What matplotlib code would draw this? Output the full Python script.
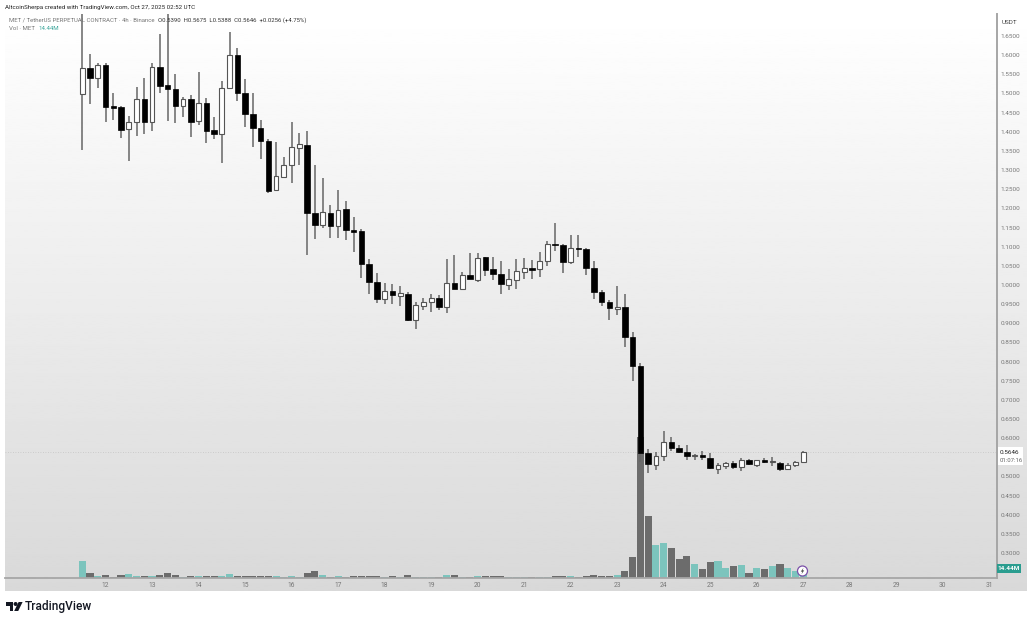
#!/usr/bin/env python3
"""MET/USDT 4h candles with volume, TradingView snapshot style."""
import matplotlib

matplotlib.use("Agg")
import matplotlib.pyplot as plt
import numpy as np
from matplotlib.patches import Circle, Polygon, Rectangle

plt.rcParams["font.family"] = ["Roboto", "DejaVu Sans"]

# 4h candles, prices in USDT
opens = [
    1.499, 1.566, 1.540, 1.574, 1.465, 1.465, 1.406, 1.426, 1.486, 1.426,
    1.568, 1.522, 1.512, 1.468, 1.485, 1.427, 1.474, 1.404, 1.393, 1.513,
    1.600, 1.502, 1.446, 1.410, 1.377, 1.247, 1.283, 1.312, 1.358, 1.365,
    1.187, 1.157, 1.187, 1.153, 1.198, 1.143, 1.140, 1.054, 1.008, 0.963,
    0.985, 0.971, 0.977, 0.908, 0.946, 0.955, 0.965, 0.942, 1.004, 0.989,
    1.026, 1.014, 1.072, 1.041, 1.029, 1.001, 1.013, 1.035, 1.043, 1.041,
    1.062, 1.108, 1.104, 1.061, 1.096, 1.094, 1.043, 0.981, 0.955, 0.938,
    0.942, 0.864, 0.788, 0.561, 0.531, 0.553, 0.589, 0.575, 0.565, 0.554,
    0.556, 0.549, 0.519, 0.527, 0.534, 0.524, 0.543, 0.530, 0.543, 0.538,
    0.536, 0.519, 0.530, 0.5390,
]
highs = [
    1.707, 1.603, 1.579, 1.579, 1.502, 1.467, 1.441, 1.516, 1.541, 1.579,
    1.654, 1.707, 1.551, 1.492, 1.496, 1.557, 1.487, 1.438, 1.532, 1.660,
    1.620, 1.537, 1.500, 1.432, 1.380, 1.374, 1.335, 1.425, 1.396, 1.402,
    1.313, 1.280, 1.209, 1.248, 1.219, 1.177, 1.145, 1.067, 1.030, 1.004,
    1.002, 0.997, 0.982, 0.956, 0.965, 0.976, 0.974, 1.067, 1.078, 1.035,
    1.083, 1.083, 1.074, 1.074, 1.063, 1.041, 1.069, 1.070, 1.065, 1.087,
    1.116, 1.163, 1.106, 1.130, 1.130, 1.096, 1.063, 0.987, 0.961, 0.997,
    0.976, 0.876, 0.797, 0.571, 0.563, 0.618, 0.602, 0.582, 0.582, 0.559,
    0.567, 0.560, 0.534, 0.538, 0.541, 0.547, 0.545, 0.543, 0.547, 0.550,
    0.539, 0.536, 0.541, 0.5675,
]
lows = [
    1.352, 1.472, 1.513, 1.425, 1.431, 1.383, 1.324, 1.390, 1.393, 1.402,
    1.500, 1.429, 1.422, 1.438, 1.386, 1.418, 1.370, 1.381, 1.319, 1.513,
    1.481, 1.413, 1.359, 1.330, 1.241, 1.247, 1.283, 1.265, 1.313, 1.078,
    1.120, 1.149, 1.122, 1.122, 1.117, 1.085, 1.017, 0.976, 0.952, 0.950,
    0.950, 0.945, 0.906, 0.885, 0.935, 0.930, 0.935, 0.926, 0.989, 0.989,
    1.015, 1.008, 1.023, 1.013, 0.976, 0.987, 0.989, 1.016, 1.015, 1.022,
    1.049, 1.089, 1.032, 1.055, 1.072, 1.027, 0.963, 0.945, 0.908, 0.922,
    0.837, 0.749, 0.538, 0.508, 0.517, 0.541, 0.566, 0.560, 0.543, 0.543,
    0.543, 0.519, 0.506, 0.519, 0.519, 0.515, 0.530, 0.525, 0.534, 0.528,
    0.515, 0.516, 0.525, 0.5388,
]
closes = [
    1.566, 1.540, 1.574, 1.464, 1.463, 1.405, 1.426, 1.486, 1.425, 1.569,
    1.519, 1.512, 1.468, 1.485, 1.425, 1.474, 1.403, 1.393, 1.515, 1.600,
    1.502, 1.446, 1.409, 1.375, 1.246, 1.285, 1.312, 1.359, 1.367, 1.187,
    1.157, 1.190, 1.154, 1.197, 1.143, 1.138, 1.055, 1.008, 0.963, 0.985,
    0.973, 0.979, 0.908, 0.948, 0.956, 0.965, 0.942, 1.004, 0.989, 1.026,
    1.015, 1.071, 1.038, 1.029, 1.002, 1.015, 1.036, 1.043, 1.040, 1.063,
    1.108, 1.104, 1.061, 1.096, 1.093, 1.044, 0.982, 0.955, 0.941, 0.942,
    0.865, 0.788, 0.560, 0.532, 0.553, 0.589, 0.575, 0.565, 0.553, 0.556,
    0.550, 0.521, 0.529, 0.534, 0.525, 0.543, 0.532, 0.543, 0.537, 0.540,
    0.519, 0.531, 0.538, 0.5646,
]
# volume in millions
volumes = [
    31.3, 10, 4.4, 5.6, 1.9, 5, 6.9, 4.4, 3.1, 3.1,
    5, 8.8, 5.6, 1.9, 3.1, 3.1, 3.1, 3.1, 3.1, 6.9,
    3.8, 3.1, 3.8, 3.1, 3.8, 3.1, 1.9, 3.8, 1.9, 8.8,
    12.5, 5, 2.5, 3.1, 2.5, 3.8, 4.4, 3.8, 3.8, 2.5,
    3.8, 2.5, 5, 1.9, 1.3, 1.3, 1.9, 5.6, 6.3, 1.9,
    2.5, 3.1, 3.8, 3.8, 3.8, 1.3, 1.3, 1.3, 2.5, 2.5,
    2.5, 3.8, 3.1, 3.1, 1.9, 3.8, 5, 3.8, 3.8, 5,
    13.1, 38.8, 264, 116, 62, 66, 56, 36, 41, 27,
    16, 30, 32, 18, 22, 24, 10, 19, 16, 22,
    27, 19, 14, 14.44,
]

# 0.5500 sits under the last-price tag, so it gets no label
price_ticks = [0.30, 0.35, 0.40, 0.45, 0.50, 0.60, 0.65, 0.70, 0.75, 0.80, 0.85, 0.90, 0.95, 1.00,
               1.05, 1.10, 1.15, 1.20, 1.25, 1.30, 1.35, 1.40, 1.45, 1.50, 1.55, 1.60, 1.65]
day_labels = [str(d) for d in range(12, 32)]
day_positions = [3 + 6 * k for k in range(len(day_labels))]

W, H = 1032, 622
UP_VOL = "#7cc4bd"
DOWN_VOL = "#6c6c6c"
TICK_GREY = "#777777"
HEADER_SIZE = 4.45


def px_axes(fig, left, top, right, bottom, **kw):
    return fig.add_axes(
        [left / W, 1 - bottom / H, (right - left) / W, (bottom - top) / H], **kw
    )


def draw_background(fig):
    ax = px_axes(fig, 5, 14, 1027, 591)
    shade = np.linspace(1.0, 0.85, 256).reshape(-1, 1)
    ax.imshow(shade, aspect="auto", cmap="gray", vmin=0, vmax=1, extent=(0, 1, 0, 1))
    ax.axis("off")


def draw_chart(fig):
    x = np.arange(len(closes))
    o, h, l, c = map(np.array, (opens, highs, lows, closes))
    up = c >= o

    vol_ax = px_axes(fig, 5, 14, 997, 578)
    vol_ax.patch.set_alpha(0)
    vol_ax.bar(x, volumes, width=0.92, color=[UP_VOL if u else DOWN_VOL for u in up], zorder=2)
    vol_ax.set_xlim(-9.97, 118.0)
    vol_ax.set_ylim(0, 1057.5)
    vol_ax.axis("off")

    ax = px_axes(fig, 5, 14, 997, 578)
    ax.patch.set_alpha(0)
    ax.axhline(closes[-1], color="#c4c4c4", lw=0.6, ls=(0, (1, 2)), zorder=1)
    ax.vlines(x, l, h, color="#666666", lw=1.1, zorder=3)
    bottoms = np.minimum(o, c)
    heights = np.maximum(np.abs(c - o), 0.003)
    ax.bar(x[~up], heights[~up], bottom=bottoms[~up], width=0.7, color="black",
           edgecolor="black", lw=0.5, zorder=4)
    ax.bar(x[up], heights[up], bottom=bottoms[up], width=0.62, color="white",
           edgecolor="#555555", lw=0.8, zorder=4)

    ax.set_xlim(-9.97, 118.0)
    ax.set_ylim(0.2348, 1.7075)
    ax.yaxis.tick_right()
    ax.set_yticks(price_ticks)
    ax.set_yticklabels([f"{p:.4f}" for p in price_ticks])
    ax.set_xticks(day_positions)
    ax.set_xticklabels(day_labels)
    ax.tick_params(axis="y", length=0, pad=2.5, labelsize=4.6, labelcolor=TICK_GREY)
    ax.tick_params(axis="x", length=0, pad=3, labelsize=4.8, labelcolor=TICK_GREY)
    for side in ("top", "left"):
        ax.spines[side].set_visible(False)
    ax.spines["right"].set_color("#a6a6a6")
    ax.spines["right"].set_linewidth(1.4)
    ax.spines["bottom"].set_color("#a6a6a6")
    ax.spines["bottom"].set_linewidth(1.3)


def draw_overlay(fig):
    ov = fig.add_axes([0, 0, 1, 1], zorder=10)
    ov.set_xlim(0, W)
    ov.set_ylim(H, 0)
    ov.axis("off")
    ov.patch.set_alpha(0)

    ov.text(5, 7, "AltcoinSherpa created with TradingView.com, Oct 27, 2025 02:52 UTC",
            fontsize=HEADER_SIZE, color="#222222", va="center")
    ov.text(9, 20, "MET / TetherUS PERPETUAL CONTRACT · 4h · Binance",
            fontsize=4.3, color="#777777", va="center")
    ov.text(158, 20, "O0.5390  H0.5675  L0.5388  C0.5646  +0.0256 (+4.75%)",
            fontsize=4.3, color="#333333", va="center")
    ov.text(9, 29, "Vol · MET", fontsize=HEADER_SIZE, color="#777777", va="center")
    ov.text(38, 29, "14.44M", fontsize=HEADER_SIZE, color="#3fa79c", va="center")

    ov.text(1002, 22, "USDT", fontsize=4.6, color="#444444", va="center")

    ov.add_patch(Rectangle((998, 447), 25, 18, fc="white", ec="none"))
    ov.text(1000, 452, "0.5646", fontsize=4.6, color="#222222", va="center")
    ov.text(1000, 460, "01:07:16", fontsize=4.3, color="#666666", va="center")

    ov.add_patch(Rectangle((997, 564), 24, 9, fc="#2a9d8f", ec="none"))
    ov.text(1009, 568.5, "14.44M", fontsize=4.6, color="white", va="center",
            ha="center", fontweight="bold")

    ov.add_patch(Circle((802.5, 571), 5, fc="white", ec="#7a4fa8", lw=0.9))
    ov.add_patch(Polygon([(803.5, 567.8), (800.8, 571.6), (802.4, 571.6), (801.5, 574.2),
                          (804.2, 570.4), (802.6, 570.4)], fc="#444444", ec="none"))

    # logo
    ov.add_patch(Polygon([(6, 602), (13, 602), (13, 611), (9.5, 611), (9.5, 606), (6, 606)],
                         fc="#131722", ec="none"))
    ov.add_patch(Circle((15.6, 604), 2, fc="#131722", ec="none"))
    ov.add_patch(Polygon([(18.6, 602), (22.6, 602), (18.2, 611), (14.2, 611)],
                         fc="#131722", ec="none"))
    ov.text(25, 606.5, "TradingView", fontsize=8.6, color="#131722", va="center",
            fontweight="medium")


def main() -> None:
    fig = plt.figure(figsize=(W / 100, H / 100), dpi=100, facecolor="white")
    draw_background(fig)
    draw_chart(fig)
    draw_overlay(fig)
    fig.savefig("out.png", dpi=100)
    plt.close(fig)


if __name__ == "__main__":
    main()
